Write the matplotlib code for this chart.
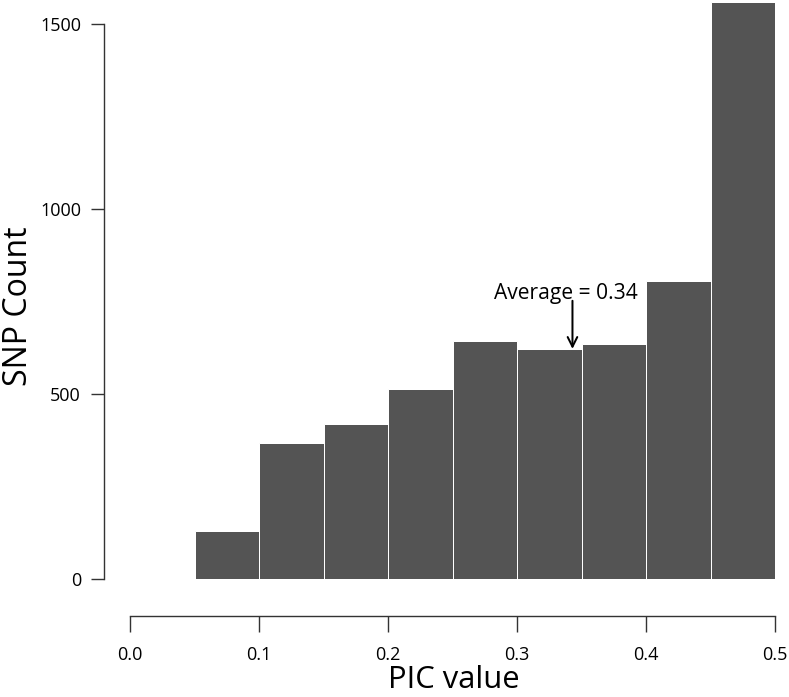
import matplotlib
matplotlib.use("Agg")
import matplotlib.pyplot as plt

# PIC 구간별 SNP 개수
bin_edges = [0.05, 0.10, 0.15, 0.20, 0.25, 0.30, 0.35, 0.40, 0.45, 0.50]
snp_count = [130, 368, 419, 514, 643, 622, 635, 805, 1559]
avg_pic = 0.34
x_ticks = [0.0, 0.1, 0.2, 0.3, 0.4, 0.5]
y_ticks = [0, 500, 1000, 1500]

plt.rcParams["font.family"] = ["Open Sans", "DejaVu Sans"]

W, H, DPI = 789, 697, 72
fig = plt.figure(figsize=(W / DPI, H / DPI), dpi=DPI)
ax = fig.add_axes([130 / W, (H - 579) / H, 645 / W, 579 / H])

lefts = bin_edges[:-1]
widths = [b - a for a, b in zip(bin_edges[:-1], bin_edges[1:])]
ax.bar(lefts, snp_count, width=widths, align="edge",
       color="#545454", edgecolor="white", linewidth=1.0)

ax.set_xlim(0, 0.5)
ax.set_ylim(0, 1565)

# R 스타일 축: 떨어진 축선
for s in ["top", "right"]:
    ax.spines[s].set_visible(False)
ax.spines["left"].set_position(("outward", 26))
ax.spines["bottom"].set_position(("outward", 37))
ax.spines["left"].set_bounds(0, 1500)
ax.spines["bottom"].set_bounds(0, 0.5)
for s in ["left", "bottom"]:
    ax.spines[s].set_linewidth(1.4)
    ax.spines[s].set_color("#333333")

ax.set_xticks(x_ticks)
ax.set_xticklabels([f"{v:.1f}" for v in x_ticks])
ax.set_yticks(y_ticks)
ax.tick_params(axis="x", length=16, width=1.4, color="#333333", pad=14, labelsize=18)
ax.tick_params(axis="y", length=13, width=1.4, color="#333333", pad=10, labelsize=18)

ax.annotate("", xy=(0.343, 622), xytext=(0.343, 752),
            arrowprops=dict(arrowstyle="->", lw=2, color="black",
                            mutation_scale=24, shrinkA=0, shrinkB=0))
ax.text(0.338, 758, f"Average = {avg_pic}", ha="center", va="baseline", fontsize=21)

fig.text(454 / W, 1 - 688 / H, "PIC value",
         ha="center", va="baseline", fontsize=31)
fig.text(19 / W, 1 - 306 / H, "SNP Count", ha="center", va="center",
         rotation=90, fontsize=32)

fig.savefig("out.png", dpi=DPI)
